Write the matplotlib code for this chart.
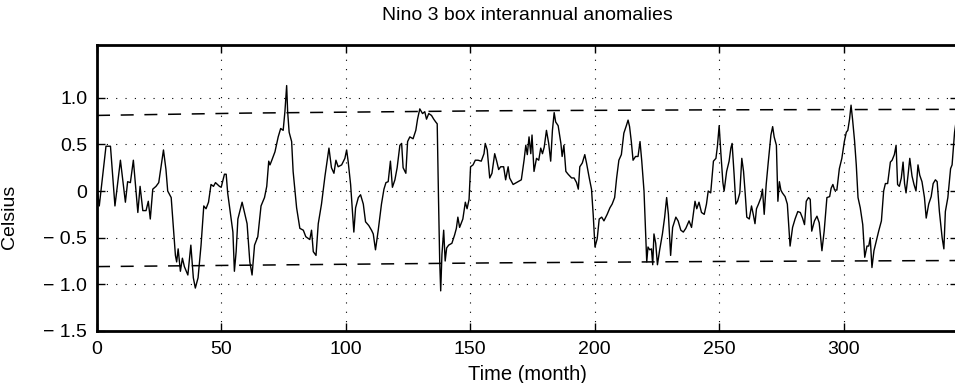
import matplotlib
matplotlib.use('Agg')
import matplotlib.pyplot as plt

plt.rcParams['font.family'] = ['Liberation Sans', 'DejaVu Sans']

# Nino 3 anomaly trace (month, degC)
month = [
    0.0, 0.9, 3.6, 5.4, 7.2, 9.4, 11.4, 12.3, 13.4, 14.6, 16.4, 17.3, 18.4, 19.7,
    20.6, 21.4, 22.4, 23.7, 24.8, 26.7, 27.7, 28.4, 29.8, 31.5, 32.0, 32.6, 33.5,
    34.3, 35.1, 36.5, 37.7, 38.7, 39.5, 40.6, 41.8, 42.9, 43.8, 44.8, 45.8, 46.8,
    47.6, 49.2, 49.9, 51.2, 51.9, 52.5, 53.9, 54.6, 55.2, 55.9, 56.6, 58.3, 60.3,
    61.4, 62.3, 63.3, 64.6, 65.9, 67.3, 68.2,
    69.0, 69.5, 70.1, 71.5, 72.8, 73.8, 74.8, 75.5, 76.2, 76.6, 77.2, 78.2, 78.8,
    80.2, 81.5, 82.9, 83.9, 85.5, 86.2, 86.9, 88.0, 88.9, 90.2, 91.6, 93.2, 94.2,
    95.2, 96.0, 96.9, 98.3, 99.6, 100.3, 100.9, 101.9, 102.7, 103.2, 103.9, 105.0,
    105.9, 107.0, 107.9, 109.2, 110.3, 111.0, 111.9, 113.0, 114.3, 115.3, 116.1,
    117.0, 117.9, 118.7, 119.7, 120.6, 121.7, 122.4, 123.0, 124.1, 124.8, 125.7,
    127.0, 128.1, 128.8, 129.7, 130.8, 131.7, 132.4, 133.3, 134.4, 135.3, 136.1,
    136.7, 137.2, 137.7, 138.1, 138.6, 139.3, 139.9, 140.5, 141.3, 142.6, 143.7,
    144.4, 145.0, 145.7, 147.0, 148.0, 148.7, 149.5, 150.1, 151.1, 152.0, 153.1,
    154.4, 155.5, 156.0, 156.8, 157.8, 158.7, 159.8, 160.6, 161.4, 162.2, 163.4,
    164.2, 165.2, 165.8, 167.2, 168.5, 170.5, 171.6, 172.3, 172.9, 173.6, 174.3,
    174.8, 175.6, 176.6, 177.5, 178.3, 179.0, 179.7, 180.6, 181.5, 182.3, 183.0,
    183.7, 184.3, 185.3, 186.4, 186.9, 187.6, 188.4, 189.3, 190.7, 191.7, 192.7,
    193.4, 194.0, 195.0, 196.0, 196.7, 197.8, 198.7, 199.4, 200.1, 201.0, 201.8,
    202.8, 203.7,
    205.0, 206.1, 207.0, 208.0, 208.8, 209.7, 210.7, 211.7, 212.7, 213.4, 214.0,
    214.7, 215.4, 216.4, 217.4, 218.2, 218.9, 219.8, 220.9, 221.4, 222.1, 222.8,
    223.3, 223.8, 224.5, 225.2, 226.1, 227.2, 228.1, 228.9, 229.6, 230.5, 231.3,
    232.6, 233.5, 234.6, 235.6, 236.6, 237.9, 238.9, 239.7, 240.3, 241.0, 241.9,
    242.9, 244.0, 244.9, 245.6, 246.6, 247.7, 248.7, 249.3, 250.0, 250.7, 251.5,
    252.0, 253.0, 254.0, 254.7, 255.2, 256.0, 256.7, 257.4, 258.3, 259.1, 259.8,
    260.5, 261.1, 262.1, 263.0, 263.7, 264.4, 265.0, 265.8, 266.8, 267.4, 268.1,
    268.9, 269.7, 270.8, 271.5, 272.1, 273.0,
    273.6, 274.2, 274.8, 275.4, 276.5, 277.4, 278.5, 279.5, 280.5, 281.6, 282.6,
    283.5, 284.3, 285.0, 285.9, 286.6, 287.2, 288.3, 289.3, 290.2, 291.3, 292.2,
    293.3, 294.4, 295.0, 295.7, 296.4, 297.3, 298.3, 299.3, 300.3, 301.1, 301.7,
    302.4, 303.0, 303.6, 304.4, 305.1, 305.8, 306.7, 307.7, 308.5, 309.4, 310.1,
    310.7, 311.4, 312.2, 313.2, 314.1, 315.2, 316.1, 316.8, 317.7, 318.8, 319.5,
    320.4, 321.1, 321.7, 322.4, 323.2, 323.9, 324.5, 325.1, 325.9, 326.6, 327.5,
    328.3, 329.1, 329.9, 330.6, 331.5, 332.5, 333.2, 334.2, 335.2, 336.0, 336.9,
    337.6, 338.5, 339.6, 340.3, 340.9, 341.9, 343.0, 343.6, 344.6, 345.5,
]
anom = [
    0.03, -0.16, 0.48, 0.48, -0.16, 0.33, -0.12, 0.10, 0.09, 0.33, -0.23, 0.05, -0.21, -0.21,
    -0.11, -0.30, 0.02, 0.05, 0.09, 0.44, 0.23, 0.00, -0.07, -0.69, -0.76, -0.62, -0.86,
    -0.72, -0.81, -0.90, -0.58, -0.93, -1.04, -0.93, -0.58, -0.16, -0.19, -0.12, 0.07, 0.05,
    0.09, 0.05, 0.04, 0.18, 0.18, -0.02, -0.30, -0.44, -0.86, -0.65, -0.30, -0.12, -0.35,
    -0.76, -0.90, -0.58, -0.49, -0.16, -0.07, 0.05,
    0.32, 0.28, 0.32, 0.42, 0.58, 0.67, 0.65, 0.85, 1.13, 0.85, 0.63, 0.53, 0.21,
    -0.18, -0.40, -0.42, -0.49, -0.52, -0.42, -0.65, -0.69, -0.35, -0.14, 0.16, 0.46, 0.25,
    0.19, 0.33, 0.26, 0.28, 0.35, 0.44, 0.32, 0.07, -0.25, -0.44, -0.18, -0.07,
    -0.04, -0.14, -0.33, -0.37, -0.42, -0.46, -0.63, -0.42, -0.14, 0.02, 0.09,
    0.10, 0.32, 0.04, 0.12, 0.25, 0.49, 0.51, 0.25, 0.19, 0.53, 0.58,
    0.56, 0.65, 0.77, 0.88, 0.83, 0.85, 0.77, 0.83, 0.81, 0.77, 0.74,
    0.72, -0.05, -0.75, -1.07, -0.68, -0.42, -0.75, -0.61, -0.58, -0.56, -0.47,
    -0.40, -0.28, -0.39, -0.30, -0.12, -0.19, -0.09, 0.26, 0.28, 0.33, 0.33,
    0.32, 0.40, 0.51, 0.44, 0.14, 0.19, 0.40, 0.32, 0.23, 0.26, 0.26,
    0.12, 0.26, 0.14, 0.07, 0.09, 0.12, 0.33, 0.49, 0.39, 0.58, 0.40,
    0.60, 0.21, 0.35, 0.33, 0.46, 0.40, 0.47, 0.65, 0.51, 0.32, 0.65,
    0.84, 0.74, 0.70, 0.51, 0.37, 0.49, 0.21, 0.18, 0.14, 0.14, 0.09,
    0.02, 0.26, 0.30, 0.39, 0.30, 0.14, 0.02, -0.26, -0.60, -0.51, -0.30,
    -0.28, -0.32,
    -0.25, -0.18, -0.14, -0.07, 0.14, 0.33, 0.39, 0.62, 0.70, 0.76, 0.69,
    0.53, 0.33, 0.37, 0.37, 0.53, 0.32, 0.00, -0.76, -0.60, -0.63, -0.62,
    -0.79, -0.46, -0.56, -0.79, -0.63, -0.46, -0.28, -0.07, -0.25, -0.69, -0.39,
    -0.28, -0.32, -0.42, -0.44, -0.40, -0.32, -0.39, -0.23, -0.11, -0.19, -0.12,
    -0.23, -0.25, -0.14, 0.00, -0.02, 0.32, 0.35, 0.48, 0.70, 0.40, 0.09,
    0.00, 0.21, 0.32, 0.46, 0.51, 0.18, -0.14, -0.11, -0.02, 0.35, 0.21,
    -0.04, -0.28, -0.30, -0.16, -0.25, -0.35, -0.19, -0.14, -0.07, 0.02, -0.25,
    0.07, 0.30, 0.60, 0.69, 0.58, 0.49,
    -0.11, 0.10, 0.01, -0.02, -0.06, -0.14, -0.59, -0.39, -0.30, -0.22, -0.23,
    -0.29, -0.36, -0.11, -0.07, -0.09, -0.43, -0.32, -0.27, -0.34, -0.64, -0.43,
    -0.07, -0.06, 0.03, 0.07, 0.01, 0.01, 0.24, 0.35, 0.53, 0.63, 0.65,
    0.77, 0.92, 0.77, 0.54, 0.28, -0.07, -0.18, -0.36, -0.71, -0.59, -0.59,
    -0.50, -0.82, -0.64, -0.53, -0.43, -0.32, 0.00, 0.08, 0.08, 0.31, 0.33,
    0.39, 0.49, 0.07, 0.05, 0.14, 0.31, 0.08, -0.02, 0.17, 0.35, 0.16,
    0.07, 0.00, 0.28, 0.17, 0.10, -0.07, -0.29, -0.14, -0.06, 0.08, 0.12,
    0.10, -0.22, -0.50, -0.62, -0.22, -0.07, 0.24, 0.28, 0.63, 0.80,
]

# dashed envelope lines
band_x = [0, 60, 160, 250, 346]
band_hi = [0.81, 0.835, 0.86, 0.87, 0.875]
band_lo = [-0.81, -0.795, -0.77, -0.755, -0.745]

xticks = [0, 50, 100, 150, 200, 250, 300]
yticks = [-1.5, -1.0, -0.5, 0, 0.5, 1.0]
ylabels = ['\u2212 1.5', '\u2212 1.0', '\u2212 0.5', '0', '0.5', '1.0']

fig = plt.figure(figsize=(9.55, 3.83), dpi=100)
ax = fig.add_axes([0.1016, 0.1358, 0.9016, 0.748])

ax.plot(month, anom, color='black', lw=1.0, zorder=3)
ax.plot(band_x, band_hi, color='black', lw=1.1, dashes=(8.5, 7), zorder=2)
ax.plot(band_x, band_lo, color='black', lw=1.1, dashes=(8.5, 7), zorder=2)

ax.set_xlim(0, 346)
ax.set_ylim(-1.5, 1.57)
ax.set_xticks(xticks)
ax.set_yticks(yticks)
ax.set_yticklabels(ylabels)

ax.grid(True, color='black', linestyle=(0, (1, 7.4)), linewidth=0.8)
ax.set_axisbelow(True)
ax.tick_params(direction='in', top=True, right=True, length=6, width=1,
               labelsize=14, pad=7)
for s in ax.spines.values():
    s.set_linewidth(2)

ax.set_title('Nino 3 box interannual anomalies', fontsize=14, pad=18)
ax.set_xlabel('Time (month)', fontsize=14.5, labelpad=5)
ax.set_ylabel('Celsius', fontsize=14)
ax.yaxis.set_label_coords(-0.092, 0.40)

fig.savefig('out.png', dpi=100)
